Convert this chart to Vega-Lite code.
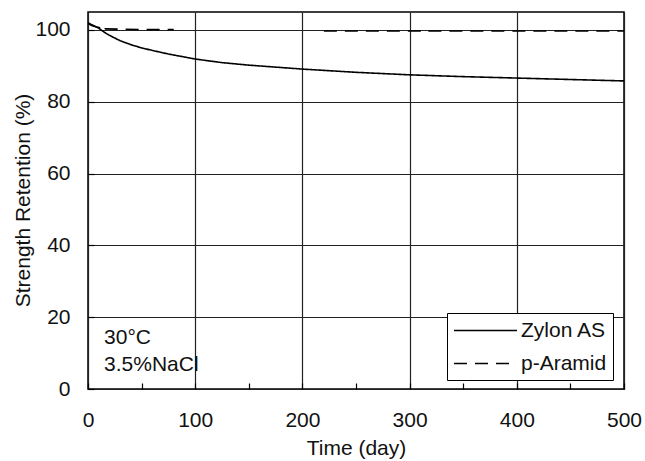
{
  "$schema": "https://vega.github.io/schema/vega-lite/v6.json",
  "width": 536,
  "height": 377,
  "autosize": "none",
  "padding": {"left": 88, "top": 12, "right": 21, "bottom": 72},
  "background": "white",
  "config": {
    "font": "Liberation Sans",
    "view": {"stroke": "#000", "strokeWidth": 1.5},
    "axis": {
      "domain": false,
      "gridColor": "#222",
      "gridWidth": 1.2,
      "tickColor": "#000",
      "tickWidth": 1.2,
      "tickSize": -6,
      "labelFlush": false,
      "labelOverlap": false,
      "labelFontSize": 21,
      "labelColor": "#111",
      "labelFont": "Liberation Sans",
      "titleFont": "Liberation Sans",
      "titleFontSize": 21,
      "titleFontWeight": "normal",
      "titleColor": "#111"
    }
  },
  "layer": [
    {
      "data": {
        "values": [
          {"series": "Zylon AS", "seg": "z", "t": 0, "v": 102.0},
          {"series": "Zylon AS", "seg": "z", "t": 3, "v": 101.5},
          {"series": "Zylon AS", "seg": "z", "t": 6, "v": 101.1},
          {"series": "Zylon AS", "seg": "z", "t": 10, "v": 100.5},
          {"series": "Zylon AS", "seg": "z", "t": 15, "v": 99.4},
          {"series": "Zylon AS", "seg": "z", "t": 20, "v": 98.5},
          {"series": "Zylon AS", "seg": "z", "t": 30, "v": 97.0},
          {"series": "Zylon AS", "seg": "z", "t": 40, "v": 95.9},
          {"series": "Zylon AS", "seg": "z", "t": 50, "v": 95.0},
          {"series": "Zylon AS", "seg": "z", "t": 60, "v": 94.3},
          {"series": "Zylon AS", "seg": "z", "t": 75, "v": 93.3},
          {"series": "Zylon AS", "seg": "z", "t": 100, "v": 91.9},
          {"series": "Zylon AS", "seg": "z", "t": 125, "v": 90.9},
          {"series": "Zylon AS", "seg": "z", "t": 150, "v": 90.2},
          {"series": "Zylon AS", "seg": "z", "t": 200, "v": 89.1},
          {"series": "Zylon AS", "seg": "z", "t": 250, "v": 88.2},
          {"series": "Zylon AS", "seg": "z", "t": 300, "v": 87.5},
          {"series": "Zylon AS", "seg": "z", "t": 350, "v": 87.0},
          {"series": "Zylon AS", "seg": "z", "t": 400, "v": 86.6},
          {"series": "Zylon AS", "seg": "z", "t": 450, "v": 86.2},
          {"series": "Zylon AS", "seg": "z", "t": 500, "v": 85.8},
          {"series": "p-Aramid", "seg": "a1", "t": 0, "v": 101.8},
          {"series": "p-Aramid", "seg": "a1", "t": 4, "v": 101.2},
          {"series": "p-Aramid", "seg": "a1", "t": 8, "v": 100.8},
          {"series": "p-Aramid", "seg": "a1", "t": 12, "v": 100.6},
          {"series": "p-Aramid", "seg": "a1", "t": 13, "v": 99.6},
          {"series": "p-Aramid", "seg": "a1", "t": 16, "v": 100.3},
          {"series": "p-Aramid", "seg": "a1", "t": 30, "v": 100.2},
          {"series": "p-Aramid", "seg": "a1", "t": 55, "v": 100.1},
          {"series": "p-Aramid", "seg": "a1", "t": 80, "v": 100.1},
          {"series": "p-Aramid", "seg": "a2", "t": 220, "v": 99.7},
          {"series": "p-Aramid", "seg": "a2", "t": 310, "v": 99.7},
          {"series": "p-Aramid", "seg": "a2", "t": 314, "v": 99.3},
          {"series": "p-Aramid", "seg": "a2", "t": 318, "v": 99.7},
          {"series": "p-Aramid", "seg": "a2", "t": 500, "v": 99.7}
        ]
      },
      "mark": {"type": "line", "color": "#000", "strokeWidth": 1.6, "clip": true},
      "encoding": {
        "x": {
          "field": "t", "type": "quantitative",
          "scale": {"domain": [0, 500], "nice": false},
          "axis": {
            "title": "Time (day)",
            "values": [0, 50, 100, 150, 200, 250, 300, 350, 400, 450, 500],
            "labelExpr": "datum.value % 100 == 0 ? datum.label : ''",
            "gridOpacity": {"condition": {"test": "datum.value % 100 == 0", "value": 1}, "value": 0},
            "labelPadding": 26,
            "titleX": 268,
            "titleY": 59,
            "titleBaseline": "middle"
          }
        },
        "y": {
          "field": "v", "type": "quantitative",
          "scale": {"domain": [0, 105], "nice": false},
          "axis": {
            "title": "Strength Retention (%)",
            "values": [0, 10, 20, 30, 40, 50, 60, 70, 80, 90, 100],
            "labelExpr": "datum.value % 20 == 0 ? datum.label : ''",
            "gridOpacity": {"condition": {"test": "datum.value % 20 == 0", "value": 1}, "value": 0},
            "labelPadding": 24,
            "titleX": -65,
            "titleY": 188,
            "titleBaseline": "middle",
            "titleAngle": -90
          }
        },
        "detail": {"field": "seg"},
        "strokeDash": {
          "field": "series", "type": "nominal",
          "scale": {"domain": ["Zylon AS", "p-Aramid"], "range": [[1, 0], [13, 8]]},
          "legend": {
            "title": null,
            "orient": "none",
            "legendX": 359,
            "legendY": 301,
            "padding": 6,
            "strokeColor": "#000",
            "fillColor": "white",
            "symbolType": "M-1,0H5",
            "symbolSize": 441,
            "symbolStrokeWidth": 1.3,
            "symbolStrokeColor": "#000",
            "labelFontSize": 21,
            "labelColor": "#111",
            "labelFont": "Liberation Sans",
            "labelOffset": 45,
            "rowPadding": 11
          }
        }
      }
    },
    {
      "data": {
        "values": [
          {"label": "30°C", "t": 15, "v": 14.2},
          {"label": "3.5%NaCl", "t": 15, "v": 6.7}
        ]
      },
      "mark": {"type": "text", "align": "left", "baseline": "middle", "fontSize": 21, "color": "#111", "font": "Liberation Sans"},
      "encoding": {
        "x": {"field": "t", "type": "quantitative"},
        "y": {"field": "v", "type": "quantitative"},
        "text": {"field": "label"}
      }
    }
  ]
}
